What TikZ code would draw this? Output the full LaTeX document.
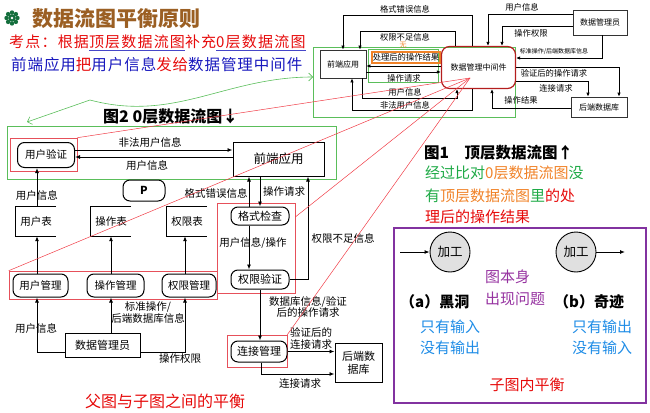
\documentclass[tikz,border=0pt]{standalone}
\usepackage{fontspec}
\setmainfont{Noto Sans CJK SC}
\usetikzlibrary{arrows.meta}
\definecolor{titlebrown}{RGB}{155,95,35}
\definecolor{ulblue}{RGB}{70,70,200}
\definecolor{navy}{RGB}{25,25,190}
\definecolor{notered}{RGB}{230,10,10}
\definecolor{notegreen}{RGB}{30,170,70}
\definecolor{noteorange}{RGB}{240,130,40}
\definecolor{notepurple}{RGB}{150,50,160}
\definecolor{skyblue}{RGB}{30,140,230}
\definecolor{framegreen}{RGB}{90,190,90}
\definecolor{framered}{RGB}{230,80,90}
\definecolor{linered}{RGB}{240,60,70}
\definecolor{mwred}{RGB}{180,30,30}
\definecolor{boxpurple}{RGB}{130,50,160}
\definecolor{icongreen}{RGB}{20,110,60}
\tikzset{
  arr/.style={-{Latex[length=5pt,width=4pt]}, line width=0.9pt},
  arrs/.style={-{Latex[length=4pt,width=3.4pt]}, line width=0.7pt},
  box/.style={draw, line width=1pt, inner sep=0pt, font=\fontsize{12.5}{14}\selectfont},
  rbox/.style={box, rounded corners=7pt, font=\fontsize{10.5}{12}\selectfont},
  store/.style={inner sep=0pt, minimum width=40pt, minimum height=29pt, font=\fontsize{10.5}{12}\selectfont},
  sbox/.style={draw=black!80, line width=0.7pt, inner sep=0pt, font=\fontsize{8}{9}\selectfont},
  lab/.style={font=\fontsize{10.5}{11.5}\selectfont, inner sep=0pt, align=center},
  slab/.style={font=\fontsize{8.3}{9}\selectfont, inner sep=0pt},
  redframe/.style={draw=framered, line width=0.6pt, inner sep=0pt},
  redline/.style={draw=linered, line width=0.5pt},
  greenframe/.style={draw=framegreen, line width=0.7pt},
  note/.style={font=\fontsize{15}{16}\selectfont, inner sep=0pt, anchor=west},
  proc/.style={circle, draw, line width=0.9pt, fill=black!12, minimum size=40pt, inner sep=0pt, font=\fontsize{12.5}{13}\selectfont},
}
\begin{document}
\begin{tikzpicture}[x=1pt,y=-1pt]
  \useasboundingbox (0,0) rectangle (650,412);

  \fill[icongreen] (12,18) circle (3.8pt);
  \foreach \a in {0,45,...,315} \fill[icongreen] (12,18) ++(\a:5.5) circle (2.2pt);
  \fill[white] (12,18) circle (1.3pt);
  \node[note, font=\fontsize{21}{22}\selectfont\bfseries, text=titlebrown] at (32,19) {数据流图平衡原则};
  \node[note, font=\fontsize{15}{16}\selectfont\addfontfeature{LetterSpace=8}] at (9,43) {\color{notered}考点：根据{\color{ulblue}\underline{\color{notered}顶层数据流图}}补充{\color{ulblue}\underline{\color{notered}0层数据流图}}};
  \node[note, font=\fontsize{15.5}{16}\selectfont\addfontfeature{LetterSpace=6}] at (11,65) {\color{navy}前端应用\textcolor{notered}{把}用户信息\textcolor{notered}{发给}数据管理中间件};
  \draw[framegreen, line width=0.6pt, {Straight Barb[length=4pt]}-{Straight Barb[length=4pt]}] (27,122) -- (90,100) to[out=-15,in=180] (313,77);

  \begin{scope}
    \draw[greenframe] (313,47) rectangle (515,117);
    \draw[greenframe] (368,49) rectangle (438,82);
    \draw[noteorange, line width=1.5pt] (372,52) rectangle (440,63);
    \node[sbox, minimum width=46pt, minimum height=28pt] (fe1) at (343,64) {前端应用};
    \node[sbox, draw=mwred, line width=1.2pt, rounded corners=8pt, minimum width=74pt, minimum height=42pt] (mw) at (478.5,67.5) {数据管理中间件};
    \node[sbox, minimum width=54pt, minimum height=25pt] (adm1) at (600,22.5) {数据管理员};
    \node[sbox, minimum width=56pt, minimum height=20pt] (db1) at (599,107) {后端数据库};

    \draw[arrs] (mw.north -| 472,0) |- (343,15) -- (fe1.north -| 343,0);
    \draw[arrs] (mw.north -| 455,0) |- (360,31) -- (fe1.north -| 360,0);
    \draw[arrs] (mw.west |- 0,66) -- (fe1.east |- 0,66);
    \draw[arrs] (fe1.east |- 0,72) -- (mw.west |- 0,72);
    \draw[arrs] (fe1.south -| 362,0) |- (457,98) -- (mw.south -| 457,0);
    \draw[arrs] (mw.south -| 472,0) |- (352,110) -- (fe1.south -| 352,0);
    \draw[arrs] (adm1.west |- 0,14) -| (mw.north -| 488,0);
    \draw[arrs] (adm1.west |- 0,26) -| (mw.north -| 502,0);
    \draw[arrs] (adm1.south -| 602,0) |- (mw.east |- 0,58);
    \draw[arrs] (mw.east |- 0,67) -| (db1.north -| 619,0);
    \draw[arrs] (mw.east |- 0,81) -| (db1.north -| 588,0);
    \draw[arrs] (db1.west |- 0,108) -| (mw.south -| 492,0);

    \node[slab] at (405,9) {格式错误信息};
    \node[slab] at (405,37) {权限不足信息};
    \node[font=\fontsize{7}{8}\selectfont, text=noteorange, inner sep=0pt] at (403,45) {无};
    \node[slab] at (406,57.5) {处理后的操作结果};
    \node[slab] at (404,78) {操作请求};
    \node[slab] at (405,92) {用户信息};
    \node[slab] at (405,105) {非法用户信息};
    \node[slab] at (522,7) {用户信息};
    \node[slab] at (531,33) {操作权限};
    \node[font=\fontsize{6}{7}\selectfont, inner sep=0pt] at (554,51) {标准操作/后端数据库信息};
    \node[slab] at (554,73) {验证后的操作请求};
    \node[slab] at (556,88) {连接请求};
    \node[slab] at (521,100) {操作结果};
  \end{scope}

  \begin{scope}
    \node[note, font=\fontsize{16}{17}\selectfont\bfseries] at (103,116) {图2 0层数据流图↓};
    \draw[greenframe] (7,126) rectangle (336,179);
    \node[redframe, minimum width=67pt, minimum height=33pt] (r1) at (43.5,154.5) {};
    \node[redframe, minimum width=208pt, minimum height=28pt] (r2) at (113,285) {};
    \node[redframe, minimum width=78pt, minimum height=90pt] (r3) at (256,248) {};
    \node[redframe, minimum width=60pt, minimum height=32pt] (r4) at (257,351) {};

    \node[rbox, minimum width=57pt, minimum height=25pt] (uv) at (46,155) {用户验证};
    \node[box, minimum width=91pt, minimum height=34pt] (fe0) at (278.5,159) {前端应用};
    \node[rbox, minimum width=42pt, minimum height=21pt, font=\fontsize{11}{12}\selectfont\bfseries] (p) at (144,190.5) {P};
    \foreach \nm/\x/\txt in {ut/36/用户表, ot/111/操作表, pt/187/权限表}{
      \node[store] (\nm) at (\x,221.5) {\txt};
      \draw[line width=1pt] (\nm.north east) -- (\nm.north west) -- (\nm.south west) -- (\nm.south east);
    }
    \node[rbox, minimum width=55pt, minimum height=23pt] (um) at (40.5,285.5) {用户管理};
    \node[rbox, minimum width=57pt, minimum height=23pt] (om) at (115.5,285.5) {操作管理};
    \node[rbox, minimum width=54pt, minimum height=23pt] (pm) at (189,285.5) {权限管理};
    \node[box, minimum width=75pt, minimum height=24pt, font=\fontsize{11}{12}\selectfont] (adm0) at (102.5,345) {数据管理员};
    \node[rbox, minimum width=58pt, minimum height=18pt, font=\fontsize{11}{12}\selectfont] (fc) at (260,216) {格式检查};
    \node[rbox, minimum width=58pt, minimum height=19pt, font=\fontsize{11}{12}\selectfont] (av) at (260,279.5) {权限验证};
    \node[rbox, minimum width=56pt, minimum height=21pt, font=\fontsize{11}{12}\selectfont] (cm) at (259,351.5) {连接管理};
    \node[box, minimum width=47pt, minimum height=39pt, align=center, font=\fontsize{11}{13}\selectfont] (db0) at (358.5,362.5) {后端数\\据库};

    \draw[arr] (uv.east |- 0,150) -- (fe0.west |- 0,150);
    \draw[arr] (fe0.west |- 0,157) -- (uv.east |- 0,157);
    \draw[arr] (ut.north -| 37,0) -- (uv.south -| 37,0);
    \draw[arr] (um.north -| 37,0) -- (ut.south -| 37,0);
    \draw[arr] (om.north -| 111,0) -- (ot.south -| 111,0);
    \draw[arr] (pm.north -| 185,0) -- (pt.south -| 185,0);
    \draw[arr] (adm0.west |- 0,352) -| (um.south -| 37,0);
    \draw[arr] (adm0.north -| 111,0) -- (om.south -| 111,0);
    \draw[arr] (adm0.east |- 0,352) -| (pm.south -| 185,0);
    \draw[arr] (fc.north -| 249,0) -- (fe0.south -| 249,0);
    \draw[arr] (fe0.south -| 260,0) -- (fc.north -| 260,0);
    \draw[arr] (fc.south -| 249,0) -- (av.north -| 249,0);
    \draw[arr] (av.east) -| (fe0.south -| 308,0);
    \draw[arr] (av.south -| 260,0) -- (cm.north -| 260,0);
    \draw[arr] (cm.east) -- (db0.west |- cm.east);
    \draw[arr] (cm.south -| 261,0) |- (db0.west |- 0,374);

    \node[lab] at (150,142) {非法用户信息};
    \node[lab] at (147,165) {用户信息};
    \node[lab] at (37,195) {用户信息};
    \node[lab] at (36,328) {用户信息};
    \node[lab] at (148,312.5) {标准操作/\\后端数据库信息};
    \node[lab] at (180,359) {操作权限};
    \node[lab] at (216,193) {格式错误信息};
    \node[lab] at (284,192) {操作请求};
    \node[lab] at (253,243) {用户信息/操作};
    \node[lab] at (343,238) {权限不足信息};
    \node[lab] at (308,307) {数据库信息/验证\\后的操作请求};
    \node[lab] at (311,338.5) {验证后的\\连接请求};
    \node[lab] at (300,384) {连接请求};
    \node[note, font=\fontsize{16}{17}\selectfont, text=notered] at (85,401) {父图与子图之间的平衡};
  \end{scope}

  \coordinate (hub) at (470,78);
  \draw[redline] (r1.north east) -- (hub);
  \draw[redline] (r2.north west) -- (hub);
  \draw[redline] (r3.east |- 0,217) -- (hub);
  \draw[redline] (r4.north east) -- (hub);

  \begin{scope}
    \node[note, font=\fontsize{15.5}{16}\selectfont\bfseries] at (424,153) {图1\quad 顶层数据流图↑};
    \node[note] at (425,173) {\textcolor{notegreen}{经过比对}\textcolor{noteorange}{0层数据流图}\textcolor{notegreen}{没}};
    \node[note] at (425,196) {\textcolor{notegreen}{有}\textcolor{noteorange}{顶层数据流图}\textcolor{notegreen}{里}\textcolor{notered}{的处}};
    \node[note, text=notered] at (425,217) {理后的操作结果};

    \draw[boxpurple, line width=1.4pt] (394,228) rectangle (646,403);
    \node[proc] (pa) at (450,252) {加工};
    \node[proc] (pb) at (576,252) {加工};
    \coordinate (ina) at (400,252);
    \coordinate (outb) at (625,252);
    \draw[arr] (ina) -- (pa);
    \draw[arr] (pb) -- (outb);
    \node[note, text=notepurple] at (485,277) {图本身};
    \node[note, text=notepurple] at (485,299) {出现问题};
    \node[note, font=\fontsize{15}{16}\selectfont\bfseries] at (400,302) {（a）黑洞};
    \node[note, font=\fontsize{15}{16}\selectfont\bfseries] at (554,302) {（b）奇迹};
    \node[note, text=skyblue] at (420,327) {只有输入};
    \node[note, text=skyblue] at (420,348) {没有输出};
    \node[note, text=skyblue] at (572,327) {只有输出};
    \node[note, text=skyblue] at (572,348) {没有输入};
    \node[font=\fontsize{15}{16}\selectfont, text=notered, inner sep=0pt] at (527,385) {子图内平衡};
  \end{scope}
\end{tikzpicture}
\end{document}
